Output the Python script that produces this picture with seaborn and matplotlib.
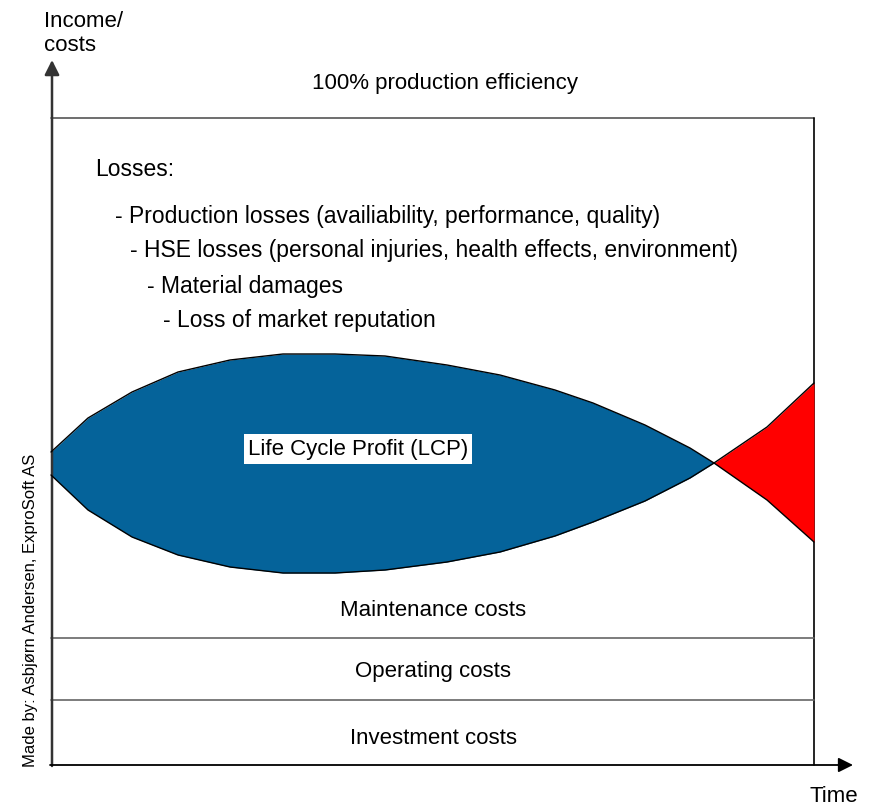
import numpy as np
import pandas as pd
import matplotlib
matplotlib.use('Agg')
import matplotlib.pyplot as plt
import seaborn as sns

# curvas do perfil (tempo, nivel)
tempo_lcp = [51, 88, 132, 178, 230, 283, 335, 385, 447, 500, 555, 593, 645, 690, 714]
lcp_sup = [452, 418, 392, 372, 360, 354, 354, 356, 365, 375, 390, 403, 425, 448, 463]
lcp_inf = [475, 510, 537, 555, 567, 573, 573, 570, 562, 552, 536, 522, 501, 478, 463]

tempo_perda = [714, 767, 814]
perda_sup = [463, 427, 383]
perda_inf = [463, 500, 542]

# faixas de custo (limites)
limites_custos = [638, 700, 765]
rotulos_custos = ['Maintenance costs', 'Operating costs', 'Investment costs']
y_rotulos_custos = [610, 672, 738]

perdas = ['Losses:',
          '- Production losses (availiability, performance, quality)',
          '- HSE losses (personal injuries, health effects, environment)',
          '- Material damages',
          '- Loss of market reputation']
x_perdas = [95, 115, 130, 147, 163]
y_perdas = [170, 216, 251, 286, 321]

sns.set_style('white')
plt.rcParams['font.family'] = ['Liberation Sans', 'DejaVu Sans']
plt.rcParams['text.color'] = 'black'

fig = plt.figure(figsize=(8.72, 8.07), dpi=100)
ax = fig.add_axes([0, 0, 1, 1])

fs = 16

# caixa
esq, dir_, topo, base = 51, 814, 118, 765
ax.plot([esq, dir_], [topo, topo], color='#555555', lw=1.2)
ax.plot([dir_, dir_], [topo, base], color='black', lw=1.2)
for y in limites_custos[:-1]:
    ax.plot([esq, dir_], [y, y], color='#666666', lw=1.2)

# eixos com setas
ax.annotate('', xy=(esq + 1, 60), xytext=(esq + 1, base + 1),
            arrowprops=dict(arrowstyle='-|>', color='#333333', lw=1.8,
                            mutation_scale=22, shrinkA=0, shrinkB=0))
ax.annotate('', xy=(853, base), xytext=(esq - 1, base),
            arrowprops=dict(arrowstyle='-|>', color='black', lw=1.3,
                            mutation_scale=22, shrinkA=0, shrinkB=0))

# LCP (azul)
df_lcp = pd.DataFrame({'t': tempo_lcp, 'sup': lcp_sup, 'inf': lcp_inf})
ax.fill_between(df_lcp['t'], df_lcp['sup'], df_lcp['inf'], color='#05639a', lw=0, zorder=2)
sns.lineplot(data=df_lcp, x='t', y='sup', ax=ax, color='black', lw=1, zorder=3)
sns.lineplot(data=df_lcp, x='t', y='inf', ax=ax, color='black', lw=1, zorder=3)

# perda (vermelho)
df_perda = pd.DataFrame({'t': tempo_perda, 'sup': perda_sup, 'inf': perda_inf})
ax.fill_between(df_perda['t'], df_perda['sup'], df_perda['inf'], color='#ff0000', lw=0, zorder=2)
sns.lineplot(data=df_perda, x='t', y='sup', ax=ax, color='black', lw=1, zorder=3)
sns.lineplot(data=df_perda, x='t', y='inf', ax=ax, color='black', lw=1, zorder=3)
ax.set_xlim(0, 872)
ax.set_ylim(807, 0)
ax.axis('off')

# textos
ax.text(44, 27, 'Income/', fontsize=fs, ha='left', va='baseline')
ax.text(44, 51, 'costs', fontsize=fs, ha='left', va='baseline')
ax.text(445, 84, '100% production efficiency', fontsize=fs, ha='center', va='center')
for t, x, y in zip(perdas, x_perdas, y_perdas):
    ax.text(x, y, t, fontsize=16.5, ha='left', va='center')
for t, y in zip(rotulos_custos, y_rotulos_custos):
    ax.text(433, y, t, fontsize=fs, ha='center', va='center')
ax.text(358, 449, 'Life Cycle Profit (LCP)', fontsize=fs, ha='center', va='center', zorder=5,
        bbox=dict(facecolor='white', edgecolor='none', pad=3))
ax.text(834, 797, 'Time', fontsize=fs, ha='center', va='center')
ax.text(30, 610, 'Made by: Asbjørn Andersen, ExproSoft AS', fontsize=12,
        rotation=90, ha='center', va='center')

fig.savefig('out.png', dpi=100)
